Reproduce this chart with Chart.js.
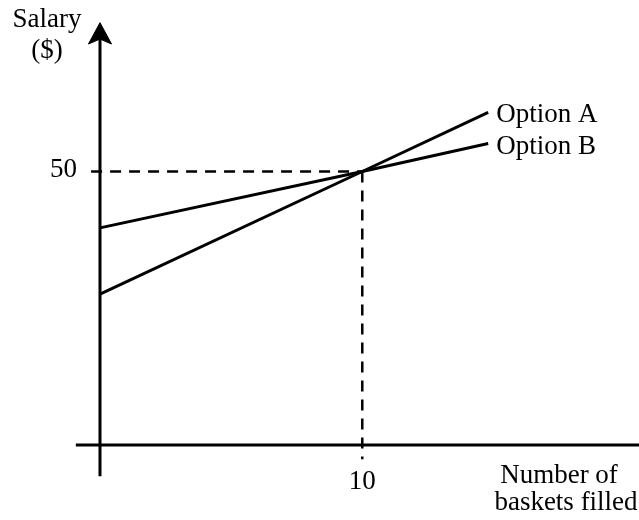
<!DOCTYPE html>
<html>
<head>
<meta charset="utf-8">
<script src="https://cdn.jsdelivr.net/npm/chart.js@4/dist/chart.umd.min.js"></script>
<style>
  body { margin: 0; background: #fff; }
  #wrap { width: 639px; height: 520px; position: relative; }
</style>
</head>
<body>
<div id="wrap"><canvas id="graph"></canvas></div>
<script>
// baskets filled (x) and salary in $ (y)
const baskets = [0, 10, 14.8];
const optionA = [27.6, 50, 60.8];
const optionB = [39.7, 50, 55.1];

const seriesNames = ['Option A', 'Option B'];
const xTickLabels = [{value: 10, text: '10'}];
const yTickLabels = [{value: 50, text: '50'}];
const yTitle = ['Salary', '($)'];
const xTitle = ['Number of', 'baskets filled'];

// axis extents in data units
const xAxisLine = [{x: -0.92, y: 0}, {x: 20.7, y: 0}];
const yAxisLine = [{x: 0, y: -5.7}, {x: 0, y: 74.5}];
const arrowHead = [{x: 0, y: 77.2}, {x: -0.44, y: 73.3}, {x: 0, y: 74.2}, {x: 0.44, y: 73.3}, {x: 0, y: 77.2}];
const guideH = [{x: -0.34, y: 50}, {x: 10, y: 50}];
const guideV = [{x: 10, y: 50}, {x: 10, y: -2.6}];

const font = '27px "Liberation Serif", "Times New Roman", serif';
const ink = '#000';

let ctx = document.getElementById("graph").getContext('2d');

function toPoints(xs, ys) {
    return xs.map((x, i) => ({x: x, y: ys[i]}));
}

function lineSet(data, width, dash) {
    return {
        data: data,
        showLine: true,
        borderColor: ink,
        borderWidth: width,
        borderDash: dash || [],
        pointRadius: 0,
        pointHoverRadius: 0,
        fill: false
    };
}

const labelPlugin = {
    id: 'labels',
    afterDatasetsDraw(chart) {
        const c = chart.ctx;
        const xs = chart.scales.x;
        const ys = chart.scales.y;
        c.save();
        c.fillStyle = ink;
        c.font = font;
        c.textBaseline = 'alphabetic';

        // tick labels
        c.textAlign = 'right';
        yTickLabels.forEach(t => c.fillText(t.text, xs.getPixelForValue(0) - 23, ys.getPixelForValue(t.value) + 6));
        c.textAlign = 'center';
        xTickLabels.forEach(t => c.fillText(t.text, xs.getPixelForValue(t.value), ys.getPixelForValue(0) + 44));

        // axis titles
        c.fillText(yTitle[0], 47, 27);
        c.fillText(yTitle[1], 47, 58);
        c.fillText(xTitle[0], 559, 483);
        c.fillText(xTitle[1], 566, 510);

        // series names at line ends
        c.textAlign = 'left';
        const last = baskets.length - 1;
        c.fillText(seriesNames[0], xs.getPixelForValue(baskets[last]) + 8, ys.getPixelForValue(optionA[last]) + 10);
        c.fillText(seriesNames[1], xs.getPixelForValue(baskets[last]) + 8, ys.getPixelForValue(optionB[last]) + 10);
        c.restore();
    }
};

new Chart(ctx, {
    type: 'scatter',
    data: {
        datasets: [
            lineSet(xAxisLine, 3),
            lineSet(yAxisLine, 3),
            lineSet(guideH, 2.5, [11, 8]),
            lineSet(guideV, 2.5, [11, 8]),
            lineSet(toPoints(baskets, optionA), 3),
            lineSet(toPoints(baskets, optionB), 3),
            Object.assign(lineSet(arrowHead, 1), {fill: 'shape', backgroundColor: ink})
        ]
    },
    options: {
        responsive: true,
        maintainAspectRatio: false,
        animation: false,
        layout: { padding: 0 },
        plugins: {
            legend: { display: false },
            tooltip: { enabled: false }
        },
        events: [],
        // chart area is inset 1.5px by the line overflow
        scales: {
            x: { type: 'linear', display: false, min: -3.812, max: 20.55 },
            y: { type: 'linear', display: false, min: -13.69, max: 81.34 }
        }
    },
    plugins: [labelPlugin]
});
</script>
</body>
</html>
